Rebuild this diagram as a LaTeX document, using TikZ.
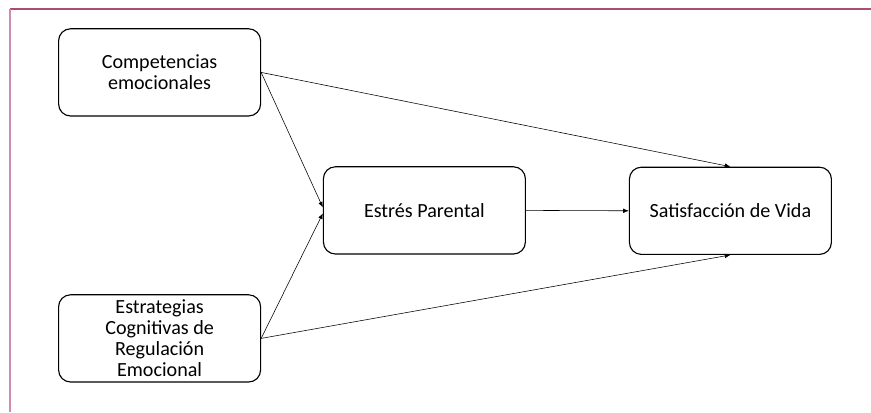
\documentclass[tikz,border=0pt]{standalone}
\usepackage{fontspec}
\setmainfont{Carlito}
\usetikzlibrary{arrows.meta}
\definecolor{frametop}{RGB}{168,78,114}
\definecolor{frameleft}{RGB}{206,140,176}
\tikzset{
	varbox/.style={draw,thick,rounded corners=8.5pt,minimum width=5.05cm,minimum height=2.18cm,align=center,font=\fontsize{14.3}{15}\selectfont},
	link/.style={thin,-{Latex[length=4pt,width=3.2pt]}}
}
\begin{document}
\begin{tikzpicture}
	\useasboundingbox (0,0) rectangle (21.775,10.3);
	% marco
	\draw [frametop,line width=1.4pt] (0.25,10.075) -- (21.775,10.075);
	\draw [frameleft,line width=1.4pt] (0.25,10.075) -- (0.25,0);

	\node [varbox] (comp) at (3.99,8.49) {Competencias\\emocionales};
	\node [varbox] (estr) at (3.99,1.84) {Estrategias\\Cognitivas de\\Regulación\\Emocional};
	\node [varbox] (stress) at (10.61,5.04) {Estrés Parental};
	\node [varbox] (satis) at (18.26,5.03) {Satisfacción de Vida};

	\draw [link] (comp.east) -- ([yshift=2.1pt]stress.west);
	\draw [link] (estr.east) -- ([yshift=-2.1pt]stress.west);
	\draw [link] (comp.east) -- (satis.north);
	\draw [link] (estr.east) -- (satis.south);
	\draw [link] (stress.east) -- (satis.west);
\end{tikzpicture}
\end{document}
